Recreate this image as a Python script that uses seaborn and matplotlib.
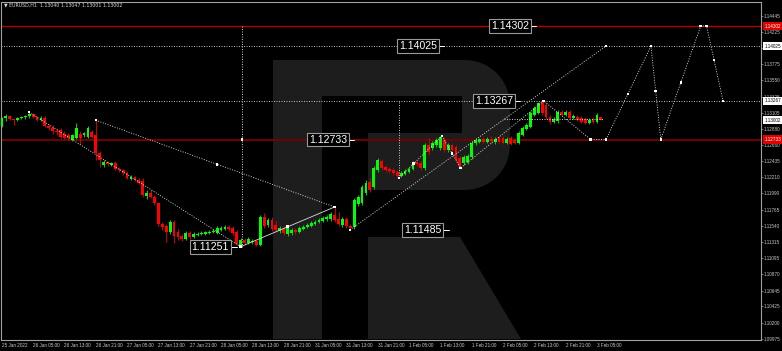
import numpy as np
import matplotlib
matplotlib.use("Agg")
import matplotlib.pyplot as plt
import matplotlib.transforms as mtransforms
from matplotlib.patches import Polygon
import seaborn as sns

# ---------------- data (EURUSD H1) ----------------
bar_open = [1.1292,1.1303,1.1306,1.1302,1.1300,1.1303,1.1304,1.1306,1.1309,1.1304,
            1.1300,1.1303,1.1292,1.1289,1.1285,1.1287,1.1281,1.1280,1.1273,1.1275,
            1.1281,1.1280,1.1277,1.1284,1.1280,1.1255,1.1238,1.1242,1.1238,1.1241,
            1.1233,1.1231,1.1227,1.1219,1.1222,1.1217,1.1216,1.1195,1.1199,1.1194,
            1.1186,1.1157,1.1154,1.1146,1.1159,1.1146,1.1140,1.1136,1.1144,1.1139,
            1.1141,1.1143,1.1143,1.1144,1.1146,1.1144,1.1148,1.1150,1.1152,1.1151,
            1.1146,1.1128,1.1134,1.1130,1.1132,1.1133,1.1128,1.1166,1.1155,1.1162,
            1.1155,1.1147,1.1151,1.1143,1.1144,1.1148,1.1146,1.1150,1.1152,1.1154,
            1.1157,1.1159,1.1161,1.1163,1.1163,1.1169,1.1163,1.1155,1.1163,1.1154,
            1.1152,1.1184,1.1186,1.1199,1.1215,1.1208,1.1231,1.1244,1.1235,1.1233,
            1.1231,1.1228,1.1223,1.1226,1.1228,1.1233,1.1242,1.1241,1.1234,1.1266,
            1.1262,1.1266,1.1262,1.1273,1.1259,1.1266,1.1263,1.1248,1.1241,1.1242,
            1.1249,1.1269,1.1270,1.1274,1.1270,1.1274,1.1270,1.1277,1.1275,1.1269,
            1.1275,1.1273,1.1269,1.1280,1.1288,1.1291,1.1307,1.1310,1.1325,1.1321,
            1.1304,1.1298,1.1299,1.1311,1.1307,1.1311,1.1303,1.1304,1.1303,1.1302,
            1.1296,1.1302,1.1298,1.13040]
bar_high = [1.1304,1.1309,1.1307,1.1303,1.1304,1.1306,1.1307,1.1311,1.1310,1.1306,
            1.1306,1.1306,1.1295,1.1293,1.1289,1.1289,1.1285,1.1282,1.1281,1.1296,
            1.1285,1.1284,1.1292,1.1287,1.1300,1.1257,1.1245,1.1244,1.1242,1.1244,
            1.1235,1.1233,1.1230,1.1224,1.1223,1.1220,1.1220,1.1204,1.1204,1.1197,
            1.1187,1.1159,1.1157,1.1162,1.1162,1.1150,1.1143,1.1147,1.1147,1.1146,
            1.1146,1.1147,1.1147,1.1148,1.1150,1.1154,1.1154,1.1155,1.1155,1.1154,
            1.1148,1.1137,1.1137,1.1139,1.1136,1.1134,1.1169,1.1172,1.1165,1.1166,
            1.1161,1.1154,1.1154,1.1154,1.1151,1.1151,1.1154,1.1155,1.1158,1.1161,
            1.1162,1.1165,1.1168,1.1169,1.1173,1.1180,1.1173,1.1166,1.1166,1.1157,
            1.1193,1.1197,1.1210,1.1217,1.1220,1.1237,1.1248,1.1246,1.1238,1.1235,
            1.1234,1.1231,1.1230,1.1233,1.1235,1.1244,1.1245,1.1244,1.1269,1.1275,
            1.1271,1.1275,1.1278,1.1277,1.1269,1.1269,1.1266,1.1251,1.1252,1.1253,
            1.1271,1.1275,1.1275,1.1277,1.1277,1.1278,1.1277,1.1278,1.1278,1.1277,
            1.1278,1.1275,1.1285,1.1292,1.1296,1.1313,1.1320,1.1325,1.13267,1.1324,
            1.1307,1.1304,1.1314,1.1314,1.1314,1.1314,1.1309,1.1307,1.1306,1.1304,
            1.1303,1.1304,1.1310,1.13047]
bar_low = [1.1291,1.1299,1.1300,1.1293,1.1299,1.1302,1.1302,1.1303,1.1303,1.1299,
           1.1299,1.1291,1.1287,1.1281,1.1280,1.1275,1.1274,1.1273,1.1271,1.1274,
           1.1267,1.1277,1.1275,1.1275,1.1245,1.1235,1.1235,1.1237,1.1237,1.1231,
           1.1228,1.1224,1.1219,1.1217,1.1216,1.1212,1.1194,1.1191,1.1193,1.1183,
           1.1154,1.1148,1.1132,1.1143,1.1130,1.1134,1.1133,1.1134,1.1136,1.1137,
           1.1140,1.1141,1.1141,1.1143,1.1144,1.1143,1.1147,1.1148,1.1147,1.1141,
           1.1128,1.11251,1.1128,1.1129,1.1129,1.1126,1.1126,1.1151,1.1152,1.1147,
           1.1146,1.1144,1.1141,1.1140,1.1141,1.1143,1.1144,1.1148,1.1151,1.1152,
           1.1155,1.1158,1.1159,1.1161,1.1161,1.1159,1.1154,1.1152,1.1151,1.11485,
           1.1150,1.1181,1.1183,1.1197,1.1201,1.1205,1.1228,1.1231,1.1228,1.1227,
           1.1224,1.1220,1.1222,1.1224,1.1227,1.1231,1.1237,1.1231,1.1231,1.1252,
           1.1259,1.1263,1.1259,1.1256,1.1256,1.1255,1.1242,1.1234,1.1238,1.1239,
           1.1246,1.1266,1.1269,1.1269,1.1269,1.1269,1.1267,1.1269,1.1267,1.1267,
           1.1266,1.1267,1.1267,1.1278,1.1287,1.1289,1.1306,1.1309,1.1307,1.1302,
           1.1295,1.1296,1.1296,1.1306,1.1306,1.1302,1.1302,1.1299,1.1296,1.1295,
           1.1295,1.1296,1.1296,1.13001]
bar_close = [1.1303,1.1306,1.1302,1.1300,1.1303,1.1304,1.1306,1.1309,1.1304,1.1300,
             1.1303,1.1292,1.1289,1.1285,1.1284,1.1277,1.1275,1.1275,1.1280,1.1289,
             1.1275,1.1282,1.1289,1.1277,1.1255,1.1245,1.1242,1.1239,1.1241,1.1233,
             1.1231,1.1227,1.1220,1.1222,1.1217,1.1213,1.1197,1.1199,1.1194,1.1186,
             1.1157,1.1152,1.1146,1.1159,1.1140,1.1139,1.1136,1.1144,1.1139,1.1143,
             1.1143,1.1144,1.1146,1.1146,1.1147,1.1151,1.1151,1.1152,1.1150,1.1144,
             1.1129,1.1134,1.1130,1.1136,1.1133,1.1128,1.1166,1.1154,1.1162,1.1150,
             1.1148,1.1151,1.1144,1.1151,1.1148,1.1146,1.1151,1.1152,1.1155,1.1158,
             1.1159,1.1162,1.1165,1.1166,1.1170,1.1162,1.1157,1.1163,1.1154,1.1151,
             1.1190,1.1194,1.1208,1.1213,1.1204,1.1234,1.1245,1.1234,1.1231,1.1230,
             1.1227,1.1223,1.1227,1.1230,1.1233,1.1241,1.1239,1.1234,1.1266,1.1256,
             1.1269,1.1273,1.1277,1.1259,1.1266,1.1259,1.1245,1.1237,1.1249,1.1251,
             1.1269,1.1273,1.1274,1.1270,1.1274,1.1271,1.1274,1.1270,1.1269,1.1274,
             1.1267,1.1269,1.1282,1.1289,1.1293,1.1310,1.1317,1.1324,1.1310,1.1304,
             1.1298,1.1302,1.1311,1.1307,1.1311,1.1303,1.1306,1.1300,1.1298,1.1296,
             1.1300,1.1298,1.1307,1.13002]

time_labels = ["25 Jan 2022", "26 Jan 05:00", "26 Jan 13:00", "26 Jan 21:00",
               "27 Jan 05:00", "27 Jan 13:00", "27 Jan 21:00", "28 Jan 05:00",
               "28 Jan 13:00", "28 Jan 21:00", "31 Jan 05:00", "31 Jan 13:00",
               "31 Jan 21:00", "1 Feb 05:00", "1 Feb 13:00", "1 Feb 21:00",
               "2 Feb 05:00", "2 Feb 13:00", "2 Feb 21:00", "3 Feb 05:00"]
time_label_bars = [0, 8, 16, 24, 32, 40, 48, 56, 64, 72, 80, 88, 96, 104,
                   112, 120, 128, 136, 144, 152]

price_ticks = ["1.14445", "1.14225", "1.14000", "1.13775", "1.13550", "1.13325",
               "1.13105", "1.12880", "1.12660", "1.12435", "1.12210", "1.11990",
               "1.11765", "1.11540", "1.11315", "1.11095", "1.10870", "1.10645",
               "1.10425", "1.10200", "1.09975"]
hidden_ticks = ["1.14000"]  # covered by the 1.14025 flag in the reference

level_top = 1.14302
level_target = 1.14025
level_high = 1.13267
level_mid = 1.12733
level_low1 = 1.11251
level_low2 = 1.11485
last_price = 1.13002

# forecast / analysis lines (bar index, price)
lineA_x = [7, 61];        lineA_y = [1.1311, 1.11251]
lineB_x = [24, 85];       lineB_y = [1.1300, 1.1180]
lineC_x = [61, 85];       lineC_y = [1.11251, 1.1180]
lineD_x = [89, 154.3];    lineD_y = [1.11485, 1.14025]
lineE_x = [101.4, 112.4, 117.2, 138.4, 150.4, 154.3, 165.8, 168.3, 178.5, 180.0, 184.2]
lineE_y = [1.1220, 1.1278, 1.1234, 1.13267, 1.12733, 1.12733, 1.14025, 1.12733,
           1.14302, 1.14302, 1.13267]
lineF_x = [128.2, 153.8]; lineF_y = [1.1302, 1.1302]
vert1_x = 61.3;  vert1_y = [1.11251, 1.14302]
vert2_x = 101.4; vert2_y = [1.1220, 1.13267]
marker_x = [55, 61.3, 73, 105.2, 115, 159.9, 167, 173.4, 181.9]
marker_y = [1.1239, 1.12733, 1.1153, 1.1240, 1.1254, 1.1336, 1.1340, 1.1352, 1.1383]

box_texts = ["1.14302", "1.14025", "1.13267", "1.12733", "1.11251", "1.11485"]
box_values = [level_top, level_target, level_high, level_mid, level_low1, level_low2]
box_left = [124.9, 101.4, 120.8, 78.4, 48.5, 102.7]

axis_flags = [("1.14302", level_top, "#e00000", "white"),
              ("1.14025", level_target, "white", "black"),
              ("1.13267", level_high, "white", "black"),
              ("1.13002", last_price, "white", "black"),
              ("1.12733", level_mid, "#e00000", "white")]

title = "\u25bc EURUSD,H1  1.13040 1.13047 1.13001 1.13002"

# ---------------- style ----------------
sns.set_theme(style="dark", rc={"axes.facecolor": "none", "figure.facecolor": "black"})
plt.rcParams["font.family"] = ["Liberation Sans", "DejaVu Sans"]

W, H = 782, 351
fig = plt.figure(figsize=(W / 100, H / 100), dpi=100, facecolor="black")

# watermark logo (background decoration)
bg = fig.add_axes([0, 0, 1, 1], zorder=0)
bg.set_xlim(0, W); bg.set_ylim(H, 0); bg.axis("off"); bg.set_facecolor("black")
wm = "#1d1d1d"
r = 45
t1 = np.linspace(-np.pi / 2, 0, 12)
t2 = np.linspace(0, np.pi / 2, 12)
outer = [(273, 60)] + [(465 + r * np.cos(a), 105 + r * np.sin(a)) for a in t1] + \
        [(465 + r * np.cos(a), 145 + r * np.sin(a)) for a in t2] + \
        [(368, 190), (368, 133), (462, 133), (462, 96), (322, 96), (322, 339), (273, 339)]
bg.add_patch(Polygon(outer, closed=True, fc=wm, ec="none"))
bg.add_patch(Polygon([(368, 237), (460, 237), (521, 339), (368, 339)], closed=True, fc=wm, ec="none"))

ax = fig.add_axes([1 / W, 11.5 / H, 760 / W, 338 / H], zorder=1)
ax.set_facecolor("none")

x = np.arange(len(bar_open))
o = np.array(bar_open); h = np.array(bar_high); l = np.array(bar_low); c = np.array(bar_close)
h = np.maximum(h, np.maximum(o, c)); l = np.minimum(l, np.minimum(o, c))
up = c >= o
cols = np.where(up, "#00ff00", "#ff0000")
wick_cols = np.where(up, "#00d000", "#d00000")
ax.vlines(x, l, h, colors=wick_cols, lw=0.7, zorder=3)
body = np.maximum(np.abs(c - o), 0.00008)
ax.bar(x, body, bottom=np.minimum(o, c), width=0.72, color=cols, lw=0, zorder=4)

# horizontal levels
ax.axhline(level_top, color="#b00000", lw=1.0, zorder=2)
ax.axhline(level_mid, color="#7a0000", lw=1.3, zorder=2)
dot = (0, (1.2, 1.8))
ax.axhline(level_target, color="#d8d8d8", lw=0.6, ls=dot, zorder=2)
ax.axhline(level_high, color="#d8d8d8", lw=0.6, ls=dot, zorder=2)

lc = "#e8e8e8"
for xs, ys in [(lineA_x, lineA_y), (lineB_x, lineB_y), (lineD_x, lineD_y),
               (lineE_x, lineE_y), (lineF_x, lineF_y)]:
    sns.lineplot(x=xs, y=ys, ax=ax, color=lc, lw=0.6, linestyle=dot, sort=False,
                 estimator=None, zorder=5)
sns.lineplot(x=lineC_x, y=lineC_y, ax=ax, color="#dddddd", lw=0.6, sort=False,
             estimator=None, zorder=5)
ax.plot([vert1_x, vert1_x], vert1_y, color=lc, lw=0.6, ls=dot, zorder=5)
ax.plot([vert2_x, vert2_x], vert2_y, color=lc, lw=0.6, ls=dot, zorder=5)

px = lineA_x + lineB_x + lineC_x + lineD_x + lineE_x + [vert2_x] + marker_x
py = lineA_y + lineB_y + lineC_y + lineD_y + lineE_y + [vert2_y[0]] + marker_y
sns.scatterplot(x=px, y=py, ax=ax, marker="s", s=3, color="white", edgecolor="none",
                zorder=6, legend=False)

# price boxes
for txt, val, xl in zip(box_texts, box_values, box_left):
    ax.text(xl, val, txt, ha="left", va="center", fontsize=7.6, color="white", zorder=8,
            bbox=dict(boxstyle="square,pad=0.18", fc="black", ec="#9a9a9a", lw=0.8))
    ax.plot([xl + 9.9, xl + 11.6], [val, val], color="white", lw=0.7, zorder=7)

ax.set_xlim(-0.2, 193.9)
ax.set_ylim(1.09968, 1.14641)

ax.set_xticks(time_label_bars)
ax.set_xticklabels(time_labels, ha="left", fontsize=3.3, color="#c8c8c8")
ax.yaxis.tick_right()
ax.set_yticks([float(v) for v in price_ticks])
ax.set_yticklabels(["" if v in hidden_ticks else v for v in price_ticks],
                   fontsize=3.3, color="#c8c8c8")
ax.tick_params(axis="both", direction="out", length=1.6, width=0.5, color="#a0a0a0", pad=0.6)
ax.grid(False)
for s in ax.spines.values():
    s.set_visible(True); s.set_color("#a0a0a0"); s.set_linewidth(0.8)

tr = mtransforms.blended_transform_factory(ax.transAxes, ax.transData)
for txt, val, bgc, fgc in axis_flags:
    ax.text(1.0 + 3.2 / 760, val, txt, transform=tr, ha="left", va="center", fontsize=3.3,
            color=fgc, zorder=9, clip_on=False,
            bbox=dict(boxstyle="square,pad=0.35", fc=bgc, ec="none"))

fig.text(4 / W, 1 - 5 / H, title, fontsize=3.4, color="#d8d8d8", va="center", ha="left",
         family=["DejaVu Sans"])

fig.savefig("out.png", dpi=100, facecolor="black")
